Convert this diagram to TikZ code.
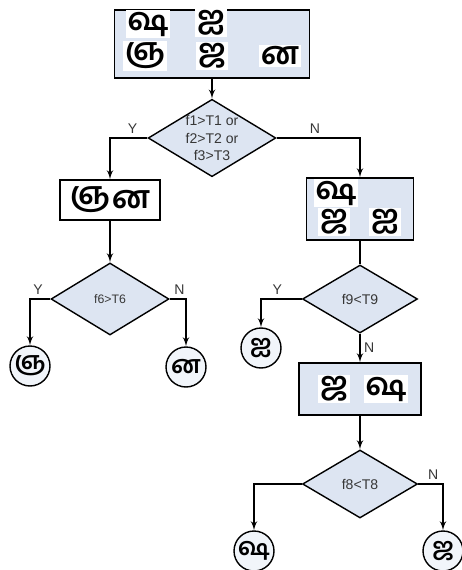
\documentclass[tikz,border=0pt]{standalone}
\usepackage{fontspec}
\usepackage{tikz}
\usetikzlibrary{shapes,arrows,positioning,calc}
\newfontfamily\tamilfont[Script=Tamil]{Hind Madurai}
\newfontfamily\labelfont{Liberation Sans}
\definecolor{boxblue}{RGB}{221,229,242}
\definecolor{textgray}{RGB}{55,55,55}

\begin{document}
\begin{tikzpicture}[auto, x=0.02cm, y=-0.02cm, >=latex', line width=0.8pt]
\tikzset{
procbox/.style  = {draw, shape=rectangle, fill=boxblue, inner sep=0pt},
plainbox/.style = {draw, shape=rectangle, fill=white, inner sep=0pt},
test/.style     = {draw, shape=diamond, fill=boxblue, aspect=1.65, inner sep=0pt, align=center, text=textgray, font=\labelfont\fontsize{8}{10}\selectfont},
leaf/.style     = {draw, shape=circle, fill=boxblue!40, minimum size=0.8cm, inner sep=0pt, font=\tamilfont\bfseries\fontsize{14}{14}\selectfont},
glyph/.style    = {fill=white, inner sep=1pt, font=\tamilfont\bfseries\fontsize{18}{18}\selectfont},
lbl/.style      = {text=textgray, font=\labelfont\fontsize{8}{9}\selectfont, inner sep=2pt},
}
\useasboundingbox (0,0) rectangle (462,570);

    % Root nodes
    \node [procbox, minimum width=3.9cm, minimum height=1.36cm] (root) at (212,44) {};
    \node [glyph] (root_sha) at (148,24) {ஷ};
    \node [glyph] (root_ai)  at (211,23) {ஐ};
    \node [glyph] (root_nya) at (145,56) {ஞ};
    \node [glyph] (root_ja)  at (212,56) {ஜ};
    \node [glyph] (root_na)  at (280,56) {ன};
    \node [test, minimum width=2.5cm, minimum height=1.52cm] (test_one) at (212,138) {f1>T1 or\\f2>T2 or\\f3>T3};

    % Root edges
    \draw [->] (root) -- (test_one);

    % Left branch nodes
    \node [plainbox, minimum width=2cm, minimum height=0.8cm] (left_box) at (110,200) {};
    \node [glyph] (left_nya) at (90,200) {ஞ};
    \node [glyph] (left_na)  at (131,200) {ன};
    \node [test, minimum width=2.36cm, minimum height=1.44cm, font=\labelfont\fontsize{7}{8}\selectfont] (test_six) at (110,299) {f6>T6};
    \node [leaf] (leaf_nya) at (30,366) {ஞ};
    \node [leaf] (leaf_na)  at (186,367) {ன};

    % Left branch edges
    \draw [->] (test_one.west) -| node[lbl, above, pos=0.2] {Y} (left_box);
    \draw [->] (left_box) -- (test_six);
    \draw [->] (test_six.west) -| node[lbl, above, pos=0.3] {Y} (leaf_nya);
    \draw [->] (test_six.east) -| node[lbl, above, pos=0.3] {N} (leaf_na);

    % Right branch nodes
    \node [procbox, minimum width=2.14cm, minimum height=1.24cm] (right_box) at (360,209) {};
    \node [glyph] (right_sha) at (336,193) {ஷ};
    \node [glyph] (right_ja)  at (334,222) {ஜ};
    \node [glyph] (right_ai)  at (385,222) {ஐ};
    \node [test, minimum width=2.3cm, minimum height=1.36cm] (test_nine) at (360,299) {f9<T9};
    \node [leaf] (leaf_ai) at (261,348) {ஐ};
    \node [procbox, minimum width=2.44cm, minimum height=1.04cm] (low_box) at (360,389) {};
    \node [glyph] (low_ja)  at (334,389) {ஜ};
    \node [glyph] (low_sha) at (386,389) {ஷ};
    \node [test, minimum width=2.3cm, minimum height=1.36cm] (test_eight) at (360,484) {f8<T8};
    \node [leaf] (leaf_sha) at (254,551) {ஷ};
    \node [leaf] (leaf_ja)  at (443,551) {ஜ};

    % Right branch edges
    \draw [->] (test_one.east) -| node[lbl, above, pos=0.23] {N} (right_box);
    \draw (right_box) -- (test_nine);
    \draw [->] (test_nine.west) -| node[lbl, above, pos=0.3] {Y} (leaf_ai);
    \draw [->] (test_nine) -- node[lbl, right] {N} (low_box);
    \draw [->] (low_box) -- (test_eight);
    \draw [->] (test_eight.west) -| (leaf_sha);
    \draw [->] (test_eight.east) -| node[lbl, above, pos=0.3] {N} (leaf_ja);

\end{tikzpicture}
\end{document}
